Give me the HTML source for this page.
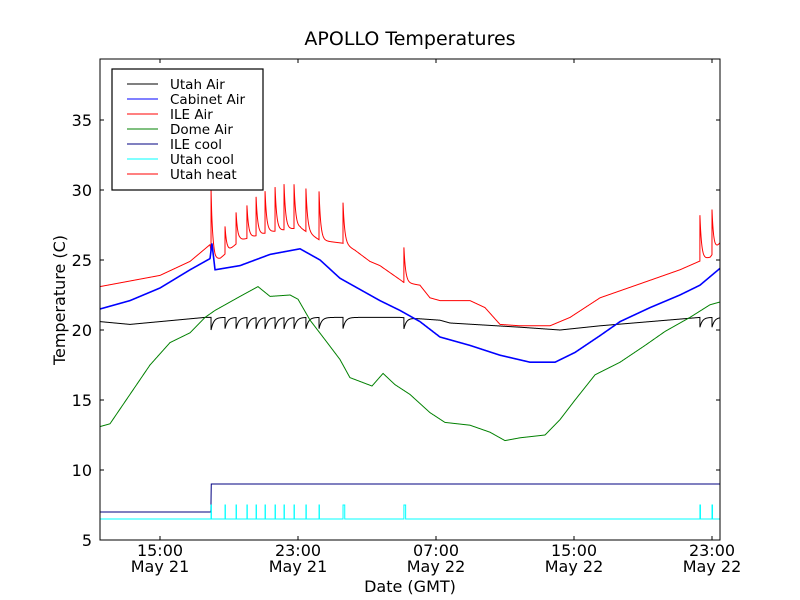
<!DOCTYPE html>
<html><head><meta charset="utf-8"><style>
body{margin:0;background:#fff;}
svg{display:block;font-family:"DejaVu Sans","Liberation Sans",sans-serif;}
</style></head><body>
<svg id="chart" width="800" height="600">
<rect x="0" y="0" width="800" height="600" fill="#fff"/>
<text x="410" y="45" font-size="19" text-anchor="middle">APOLLO Temperatures</text>
<g id="series"></g>
<rect x="100" y="59" width="620" height="481" fill="none" stroke="#000" stroke-width="1"/>
<g id="axes"></g>
<text x="410" y="592" font-size="16" text-anchor="middle">Date (GMT)</text>
<text transform="translate(65,300) rotate(-90)" font-size="16" text-anchor="middle">Temperature (C)</text>
<g>
<rect x="112" y="69" width="151" height="121" fill="#fff" stroke="#000" stroke-width="1.2"/>
<g id="legend-items"></g>
</g>
</svg>
<script>
// hours since May 21 00:00 GMT
const xTickHours = [15, 23, 31, 39, 47];
const xTickTimes = ["15:00","23:00","07:00","15:00","23:00"];
const xTickDates = ["May 21","May 21","May 22","May 22","May 22"];
const yTicks = [5,10,15,20,25,30,35];

const ileAirT = [11.52,13.26,15,16.74,17.9,18.0,18.19,18.48,19.64,21.38,23.12,24.28,25.6,26.3,27.17,27.75,28.91,29.13,30.07,30.65,31.23,32.97,33.84,34.71,35.87,37.61,38.77,40.51,42.83,45.14,46.25,46.9,47.46];
const ileAirV = [23.1,23.5,23.9,24.9,26.1,25.3,25.0,25.1,26.4,27.0,27.3,26.4,26.2,25.7,24.9,24.6,23.6,23.4,23.2,22.3,22.1,22.1,21.6,20.4,20.3,20.3,20.9,22.3,23.3,24.3,24.9,25.2,26.2];
const spikeHours = [17.96,18.77,19.41,20.04,20.57,21.09,21.67,22.19,22.77,23.46,24.22,25.61,29.14,46.30,47.0];
const ileSpikePeaks = [30.0,27.4,28.4,28.9,29.5,29.9,30.2,30.4,30.4,30.1,29.9,29.1,25.9,28.2,28.6];

const cabT = [11.52,13.26,15,16.74,17.9,18.01,18.19,19.64,21.38,23.12,24.28,25.43,26.59,27.75,28.91,30.07,31.23,32.97,34.71,36.45,37.9,39.06,40.51,41.67,43.41,45.14,46.3,47.46];
const cabV = [21.5,22.1,23.0,24.3,25.1,26.2,24.3,24.6,25.4,25.8,25.0,23.7,22.9,22.1,21.4,20.6,19.5,18.9,18.2,17.7,17.7,18.4,19.6,20.6,21.6,22.5,23.2,24.4];

const domeT = [11.52,12.1,13.26,14.42,15.58,16.74,17.61,18.19,19.64,20.68,21.38,22.54,23.0,23.7,24.57,25.43,26.01,27.29,27.93,28.62,29.49,30.65,31.52,32.97,34.13,35.0,35.87,37.32,38.19,39.06,40.22,41.67,43.12,44.28,45.72,46.88,47.46];
const domeV = [13.1,13.3,15.4,17.5,19.1,19.8,20.9,21.4,22.4,23.1,22.4,22.5,22.2,20.7,19.3,17.9,16.6,16.0,16.9,16.1,15.4,14.1,13.4,13.2,12.7,12.1,12.3,12.5,13.6,15.0,16.8,17.7,18.9,19.9,20.9,21.8,22.0];

const utahAirT = [11.52,13.26,15,17.61,24.28,26.59,28.91,31.23,31.81,35.87,38.19,40.51,43.41,46.3,47.46];
const utahAirV = [20.6,20.4,20.6,20.9,20.9,20.9,20.9,20.7,20.5,20.2,20.0,20.3,20.6,20.9,20.9];
const utahDipDepth = [0.9,0.8,0.8,0.8,0.8,0.8,0.8,0.8,0.8,0.8,0.8,0.8,0.8,0.7,0.7];

const ileCoolT = [11.52,17.95,17.97,47.46];
const ileCoolV = [7,7,9,9];
const utahCoolBase = 6.5;
const utahCoolPulse = 7.5;
const utahCoolWidth = [0.02,0.02,0.02,0.02,0.02,0.02,0.02,0.02,0.02,0.02,0.02,0.1,0.1,0.03,0.03];

const X0=100,X1=720,Y0=540,Y1=59;
const tMin=15-60/17.25, tMax=15+560/17.25;
const vMin=5, vMax=5+481/14;
function sx(t){return X0+(t-tMin)/(tMax-tMin)*(X1-X0);}
function sy(v){return Y0-(v-vMin)/(vMax-vMin)*(Y0-Y1);}
function interp(T,V,t){
  if(t<=T[0])return V[0];
  for(let i=1;i<T.length;i++){if(t<=T[i]){const f=(t-T[i-1])/(T[i]-T[i-1]);return V[i-1]+f*(V[i]-V[i-1]);}}
  return V[V.length-1];
}
const NS='http://www.w3.org/2000/svg';
const gS=document.getElementById('series');
function path(d,color,w,name){
  const p=document.createElementNS(NS,'path');
  p.setAttribute('d',d);p.setAttribute('fill','none');p.setAttribute('stroke',color);p.setAttribute('stroke-width',w);
  
  
  gS.appendChild(p);
}
function fnPath(f){
  let d='';const pts=[];
  for(let t=tMin;t<=tMax+1e-9;t+=0.01)pts.push(t);
  spikeHours.forEach(s=>{pts.push(s-0.002,s);});
  pts.sort((a,b)=>a-b);
  pts.forEach((t,i)=>{d+=(i?'L':'M')+sx(t).toFixed(2)+','+sy(f(t)).toFixed(2);});
  return d;
}
path(fnPath(t=>{let v=interp(utahAirT,utahAirV,t);spikeHours.forEach((s,i)=>{if(t>=s)v-=utahDipDepth[i]*Math.exp(-(t-s)/0.15);});return v;}),'#000','1','utah-air-line');
path(fnPath(t=>{let v=interp(ileAirT,ileAirV,t);spikeHours.forEach((s,i)=>{if(t>=s){const b=interp(ileAirT,ileAirV,s);v+=(ileSpikePeaks[i]-b)*Math.exp(-(t-s)/0.1);}});return v;}),'#f00','1','ile-air-line');
path(fnPath(t=>interp(cabT,cabV,t)),'#00f','1.6','cabinet-air-line');
path(fnPath(t=>interp(domeT,domeV,t)),'#008000','1','dome-air-line');
path(fnPath(t=>interp(ileCoolT,ileCoolV,t)),'#000080','1','ile-cool-line');
{let d='M'+sx(tMin)+','+sy(utahCoolBase);
 spikeHours.forEach((s,i)=>{d+='L'+sx(s)+','+sy(utahCoolBase)+'L'+sx(s)+','+sy(utahCoolPulse)+'L'+sx(s+utahCoolWidth[i])+','+sy(utahCoolPulse)+'L'+sx(s+utahCoolWidth[i])+','+sy(utahCoolBase);});
 d+='L'+sx(tMax)+','+sy(utahCoolBase);
 path(d,'#00ffff','1','utah-cool-line');}

const gA=document.getElementById('axes');
function el(tag,attrs,text){const e=document.createElementNS(NS,tag);for(const k in attrs)e.setAttribute(k,attrs[k]);if(text!==undefined)e.textContent=text;gA.appendChild(e);return e;}
yTicks.forEach(v=>{
  const y=sy(v);
  const a=el('line',{x1:X0,x2:X0+4,y1:y,y2:y,stroke:'#000'});
  
  
  const b=el('line',{x1:X1-4,x2:X1,y1:y,y2:y,stroke:'#000'});
  
  
  const t=el('text',{x:X0-8,y:y+6,'font-size':16,'text-anchor':'end'},String(v));
  
  
});
xTickHours.forEach((h,i)=>{
  const x=sx(h);
  const a=el('line',{x1:x,x2:x,y1:Y0,y2:Y0-4,stroke:'#000'});
  
  
  const b=el('line',{x1:x,x2:x,y1:Y1,y2:Y1+4,stroke:'#000'});
  
  
  const t=el('text',{x:x,y:556,'font-size':16,'text-anchor':'middle'},xTickTimes[i]);
  
  
  const d=el('text',{x:x,y:572,'font-size':16,'text-anchor':'middle'},xTickDates[i]);
  
  
});
const legNames=["Utah Air","Cabinet Air","ILE Air","Dome Air","ILE cool","Utah cool","Utah heat"];
const legColors=["#000","#00f","#f00","#008000","#000080","#00ffff","#f00"];
const gL=document.getElementById('legend-items');
legNames.forEach((n,i)=>{
  const y=84+i*15;
  const l=document.createElementNS(NS,'line');
  l.setAttribute('x1',127);l.setAttribute('x2',158);l.setAttribute('y1',y);l.setAttribute('y2',y);l.setAttribute('stroke',legColors[i]);
  
  
  gL.appendChild(l);
  const t=document.createElementNS(NS,'text');
  t.setAttribute('x',170);t.setAttribute('y',y+5);t.setAttribute('font-size',13.5);t.textContent=n;
  
  
  gL.appendChild(t);
});
</script>
</body></html>
